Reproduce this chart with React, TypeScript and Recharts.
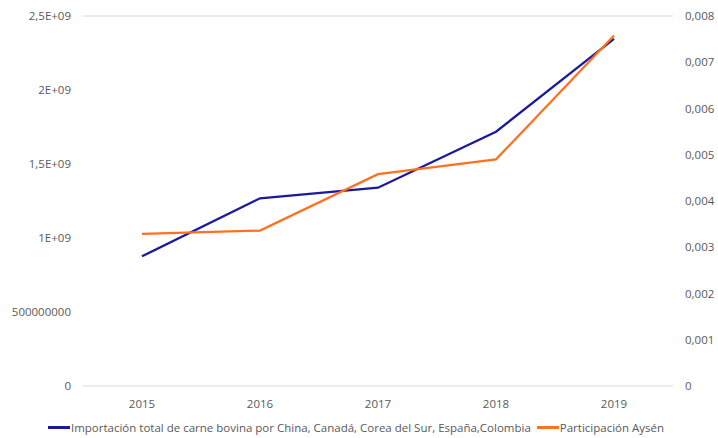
import { LineChart, Line, XAxis, YAxis, CartesianGrid, Legend } from 'recharts';

const years = ['2015', '2016', '2017', '2018', '2019'];
const importacion = [876000000, 1268000000, 1340000000, 1718000000, 2345000000];
const participacion = [0.00329, 0.00336, 0.00458, 0.0049, 0.00758];
const leftTicks = [0, 500000000, 1000000000, 1500000000, 2000000000, 2500000000];
const rightTicks = [0, 0.001, 0.002, 0.003, 0.004, 0.005, 0.006, 0.007, 0.008];

const importName = 'Importación total de carne bovina por China, Canadá, Corea del Sur, España,Colombia';
const partName = 'Participación Aysén';

const data = years.map((year, i) => ({
  year,
  importacion: importacion[i],
  participacion: participacion[i],
}));

const BLUE = '#1c1a9c';
const ORANGE = '#ff7020';
const FONT = '"Open Sans", Lato, sans-serif';

const fmtLeft = (v: number) => {
  if (v === 0) return '0';
  if (v < 1e9) return String(v);
  return (v / 1e9).toString().replace('.', ',') + 'E+09';
};

const fmtRight = (v: number) => (v === 0 ? '0' : v.toFixed(3).replace('.', ','));

function LegendContent() {
  const items = [
    { name: importName, color: BLUE },
    { name: partName, color: ORANGE },
  ];
  return (
    <div style={{ display: 'flex', justifyContent: 'center', fontFamily: FONT, fontSize: 11.5, color: '#595959' }}>
      {items.map((it) => (
        <div key={it.name} style={{ display: 'flex', alignItems: 'center', marginRight: 6 }}>
          <span style={{ display: 'inline-block', width: 22, height: 3, background: it.color, marginRight: 1 }} />
          <span>{it.name}</span>
        </div>
      ))}
    </div>
  );
}

export default function App() {
  const tick = { fill: '#595959', fontSize: 11.5, fontFamily: FONT };
  return (
    <div style={{ position: 'absolute', left: 0, top: 0, background: '#fff' }}>
      <LineChart width={718} height={438} data={data} margin={{ top: 16, right: 0, left: 0, bottom: 0 }}>
        <CartesianGrid vertical={false} stroke="#d9d9d9" strokeWidth={1} />
        <XAxis
          dataKey="year"
          axisLine={false}
          tickLine={false}
          tick={tick}
          height={34}
          tickMargin={8}
          padding={{ left: 59, right: 59 }}
        />
        <YAxis
          yAxisId="left"
          domain={[0, 2500000000]}
          ticks={leftTicks}
          tickFormatter={fmtLeft}
          axisLine={false}
          tickLine={false}
          tick={tick}
          width={83}
          tickMargin={6}
        />
        <YAxis
          yAxisId="right"
          orientation="right"
          domain={[0, 0.008]}
          ticks={rightTicks}
          tickFormatter={fmtRight}
          axisLine={false}
          tickLine={false}
          tick={tick}
          width={45}
          tickMargin={6}
        />
        <Legend content={<LegendContent />} height={18} verticalAlign="bottom" />
        <Line
          yAxisId="left"
          type="linear"
          dataKey="importacion"
          name={importName}
          stroke={BLUE}
          strokeWidth={2.25}
          dot={false}
          isAnimationActive={false}
        />
        <Line
          yAxisId="right"
          type="linear"
          dataKey="participacion"
          name={partName}
          stroke={ORANGE}
          strokeWidth={2.25}
          dot={false}
          isAnimationActive={false}
        />
      </LineChart>
    </div>
  );
}
